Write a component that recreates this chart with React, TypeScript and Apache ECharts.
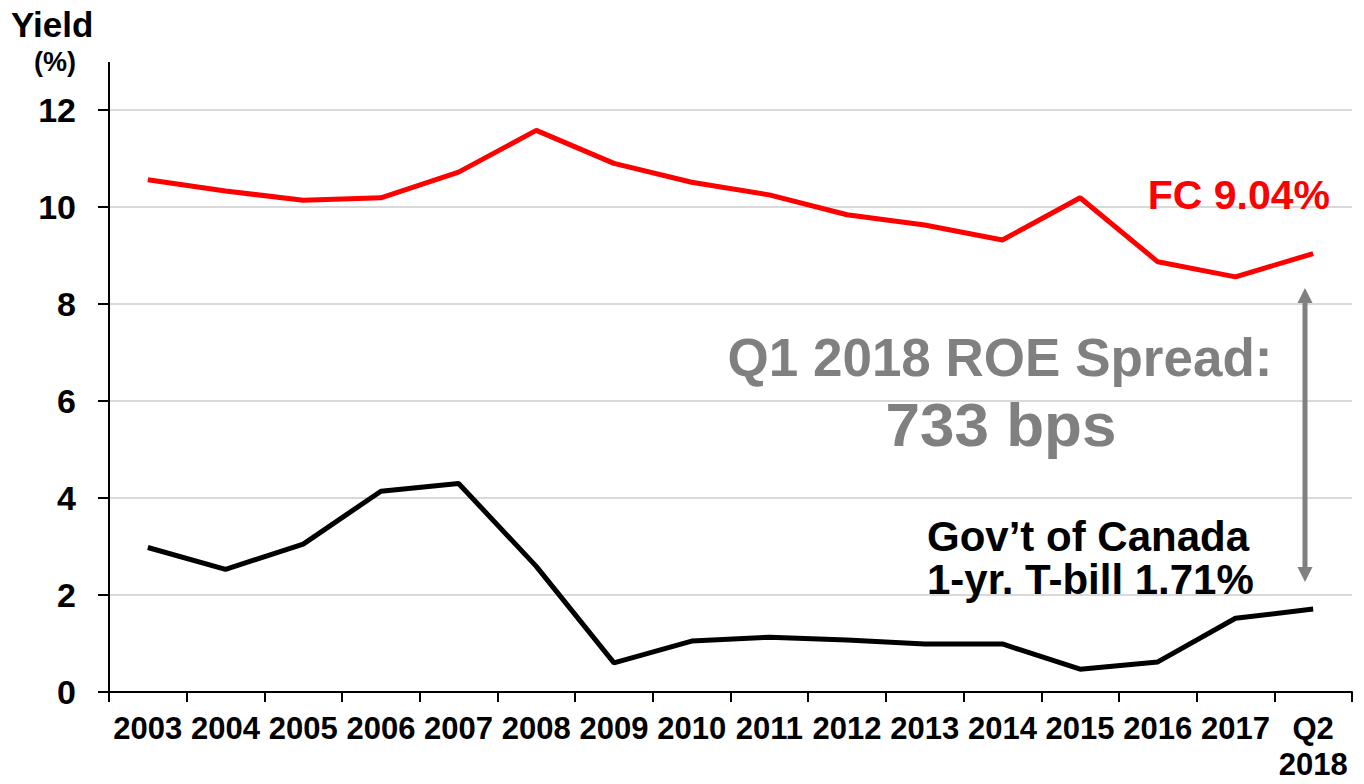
import React, { useEffect, useRef } from "react";
import * as echarts from "echarts";

const categories = [
  "2003", "2004", "2005", "2006", "2007", "2008", "2009", "2010",
  "2011", "2012", "2013", "2014", "2015", "2016", "2017", "Q2\n2018",
];
const fcValues = [10.56, 10.33, 10.14, 10.19, 10.72, 11.58, 10.9, 10.51, 10.25, 9.84, 9.63, 9.32, 10.19, 8.87, 8.56, 9.04];
const govValues = [2.98, 2.53, 3.05, 4.14, 4.3, 2.59, 0.6, 1.05, 1.13, 1.07, 0.99, 0.99, 0.47, 0.62, 1.52, 1.71];
const yTicks = { min: 0, max: 12, interval: 2 };

const FONT = "'Liberation Sans', Arial, sans-serif";
const GRAY = "#808080";

export default function App() {
  const ref = useRef<HTMLDivElement>(null);
  useEffect(() => {
    if (!ref.current) return;
    const chart = echarts.init(ref.current, undefined, { renderer: "svg" });
    chart.setOption({
      animation: false,
      textStyle: { fontFamily: FONT },
      grid: { left: 109, right: 12, top: 110, bottom: 92 },
      xAxis: {
        type: "category",
        data: categories,
        boundaryGap: true,
        axisLine: { lineStyle: { color: "#000", width: 2 } },
        axisTick: { show: true, length: 10, lineStyle: { color: "#000", width: 2 } },
        axisLabel: {
          color: "#000",
          fontWeight: "bold",
          fontSize: 31,
          fontFamily: FONT,
          margin: 18,
          lineHeight: 36,
          interval: 0,
        },
      },
      yAxis: {
        type: "value",
        min: yTicks.min,
        max: yTicks.max,
        interval: yTicks.interval,
        axisLine: { show: true, lineStyle: { color: "#000", width: 2 } },
        axisTick: { show: true, length: 11, lineStyle: { color: "#000", width: 2 } },
        axisLabel: {
          color: "#000",
          fontWeight: "bold",
          fontSize: 34,
          fontFamily: FONT,
          margin: 33,
        },
        splitLine: { show: true, lineStyle: { color: "#D9D9D9", width: 2 } },
      },
      series: [
        {
          name: "FC",
          type: "line",
          data: fcValues,
          symbol: "none",
          lineStyle: { color: "#FF0000", width: 5 },
          z: 3,
        },
        {
          name: "Gov't of Canada",
          type: "line",
          data: govValues,
          symbol: "none",
          lineStyle: { color: "#000000", width: 5 },
          z: 3,
        },
      ],
      graphic: [
        { type: "line", z: 100, shape: { x1: 109, y1: 62, x2: 109, y2: 110 }, style: { stroke: "#000", lineWidth: 2 } },
        {
          type: "text", left: 11, top: 7, z: 100,
          style: { text: "Yield", font: `bold 35px ${FONT}`, fill: "#000" },
        },
        {
          type: "text", x: 55, y: 62, z: 100,
          style: { text: "(%)", font: `bold 27px ${FONT}`, fill: "#000", align: "center", verticalAlign: "middle" },
        },
        {
          type: "text", x: 1330, y: 195, z: 100,
          style: { text: "FC 9.04%", font: `bold 41px ${FONT}`, fill: "#FF0000", align: "right", verticalAlign: "middle" },
        },
        {
          type: "text", x: 1000, y: 357, z: 100,
          style: { text: "Q1 2018 ROE Spread:", font: `bold 53px ${FONT}`, fill: GRAY, align: "center", verticalAlign: "middle" },
        },
        {
          type: "text", x: 1001, y: 424, z: 100,
          style: { text: "733 bps", font: `bold 62px ${FONT}`, fill: GRAY, align: "center", verticalAlign: "middle" },
        },
        {
          type: "text", x: 927, y: 536, z: 100,
          style: { text: "Gov’t of Canada", font: `bold 42px ${FONT}`, fill: "#000", align: "left", verticalAlign: "middle" },
        },
        {
          type: "text", x: 927, y: 579, z: 100,
          style: { text: "1-yr. T-bill 1.71%", font: `bold 42px ${FONT}`, fill: "#000", align: "left", verticalAlign: "middle" },
        },
        { type: "line", z: 100, shape: { x1: 1305, y1: 300, x2: 1305, y2: 570 }, style: { stroke: GRAY, lineWidth: 5 } },
        { type: "polygon", z: 100, shape: { points: [[1305, 288], [1297.5, 303], [1312.5, 303]] }, style: { fill: GRAY } },
        { type: "polygon", z: 100, shape: { points: [[1305, 582], [1297.5, 567], [1312.5, 567]] }, style: { fill: GRAY } },
      ],
    });
    return () => chart.dispose();
  }, []);
  return (
    <div
      ref={ref}
      style={{ position: "absolute", left: 0, top: 0, width: 1364, height: 784, background: "#fff" }}
    />
  );
}
